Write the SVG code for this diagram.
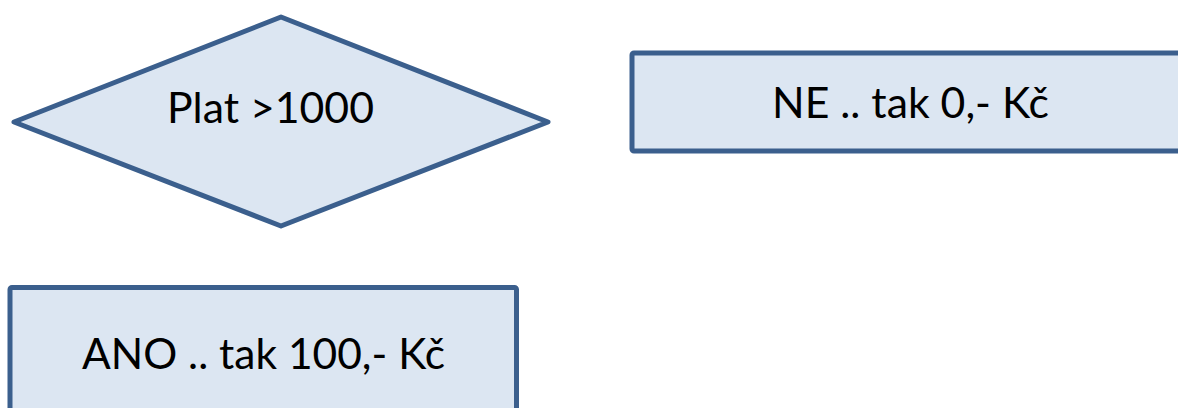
<svg xmlns="http://www.w3.org/2000/svg" width="1178" height="408" viewBox="0 0 1178 408">
<style>
.shape{fill:#dce6f2;stroke:#3b5f8d;stroke-width:5;stroke-linejoin:round}
.lbl{font-family:Lato,"Liberation Sans",Arial,sans-serif;font-size:42px;fill:#000}
</style>
<rect width="1178" height="408" fill="#fff"/>
<g id="decision">
<polygon class="shape" points="281,17 548,122 281,226 14,122"/>
<text class="lbl" x="167" y="123" textLength="207" lengthAdjust="spacingAndGlyphs">Plat &gt;1000</text>
</g>
<g id="no">
<rect class="shape" x="632" y="53" width="560" height="98" rx="2"/>
<text class="lbl" x="772" y="118" textLength="277" lengthAdjust="spacingAndGlyphs">NE .. tak 0,- Kč</text>
</g>
<g id="yes">
<rect class="shape" x="10" y="287.5" width="506.5" height="140" rx="2"/>
<text class="lbl" x="82" y="369" textLength="363" lengthAdjust="spacingAndGlyphs">ANO .. tak 100,- Kč</text>
</g>
<g id="connectors"></g>
</svg>
